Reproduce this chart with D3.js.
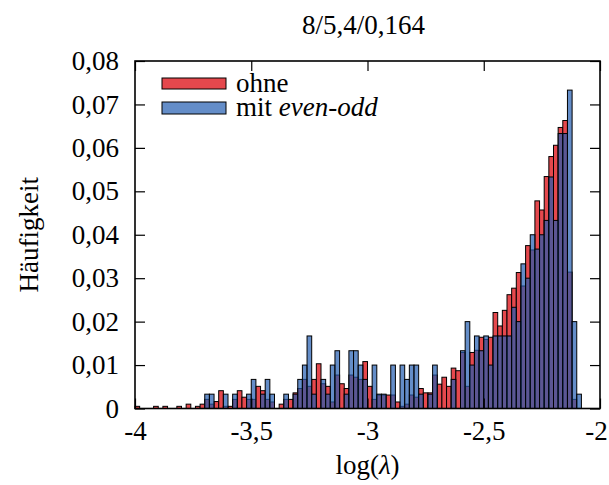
<!DOCTYPE html>
<html>
<head>
<meta charset="utf-8">
<script src="https://cdn.jsdelivr.net/npm/d3@7"></script>
<style>
  body { margin: 0; background: #fff; }
  svg text { font-family: "Liberation Serif", "DejaVu Serif", serif; fill: #000; }
</style>
</head>
<body>
<svg id="chart" width="609" height="485"></svg>
<script>
// histogram, bins of 0.02 starting at -4
var binStart = -4;
var binWidth = 0.02;

// relative frequency per bin, "ohne"
var ohne = [
  0.0005, 0, 0, 0, 0.0005, 0, 0.0005, 0, 0, 0.0005,
  0, 0.001, 0, 0.0005, 0.001, 0.0021, 0.001, 0.0016, 0.0041, 0.0005,
  0.0005, 0.0021, 0.0041, 0.0026, 0.0021, 0.0021, 0.0051, 0.0041, 0.0021, 0.0015,
  0, 0.001, 0.0021, 0.0021, 0.0036, 0.0046, 0.0067, 0.0051, 0.0067, 0.0103,
  0.0057, 0.0051, 0.0015, 0.0077, 0.0057, 0.0046, 0.0077, 0.0072, 0.0067, 0.0108,
  0.0051, 0.0021, 0.0031, 0.0031, 0.0031, 0.0031, 0.0015, 0.0005, 0.001, 0.0031,
  0.0026, 0.0046, 0.0036, 0.0036, 0.0077, 0.0056, 0.0072, 0.0051, 0.0093, 0.0087,
  0.0129, 0.0051, 0.0129, 0.0134, 0.0164, 0.0159, 0.0164, 0.0221, 0.019, 0.0226,
  0.0262, 0.0277, 0.0313, 0.0282, 0.0375, 0.0365, 0.0478, 0.0457, 0.0534, 0.058,
  0.0606, 0.0647, 0.0663, 0.0314, 0.0021, 0
];

// relative frequency per bin, "mit even-odd"
var mitEvenOdd = [
  0, 0, 0, 0, 0, 0, 0, 0, 0, 0,
  0, 0, 0, 0, 0, 0.0033, 0.0033, 0, 0, 0.0033,
  0, 0.0033, 0, 0, 0.0033, 0.0067, 0, 0.0033, 0.0067, 0.0033,
  0, 0, 0.0033, 0, 0.0033, 0.0067, 0.01, 0.0167, 0.0033, 0,
  0.0067, 0.0033, 0.01, 0.0133, 0, 0.0033, 0.0133, 0.0133, 0.01, 0.0067,
  0, 0.01, 0.0033, 0.0033, 0, 0.01, 0, 0.01, 0.0067, 0.01,
  0.01, 0.0033, 0, 0.0033, 0.01, 0, 0, 0, 0.0067, 0,
  0.0133, 0.02, 0.01, 0.0167, 0.0133, 0.0167, 0.01, 0.0167, 0.0167, 0.0167,
  0.0167, 0.0233, 0.02, 0.0333, 0.03, 0.04, 0.0367, 0.04, 0.0433, 0.0533,
  0.0433, 0.0633, 0.0633, 0.0733, 0.02, 0.0033
];

var xTicks = [-4, -3.5, -3, -2.5, -2];
var yTicks = [0, 0.01, 0.02, 0.03, 0.04, 0.05, 0.06, 0.07, 0.08];

var title = "8/5,4/0,164";
var seriesNames = ["ohne", "mit "];

(function() {
  var svg = d3.select("#chart");
  var pl = 135, pr = 600, pt = 61, pb = 408.5;
  var fontSize = 27;

  var x = d3.scaleLinear().domain([-4, -2]).range([pl, pr]);
  var y = d3.scaleLinear().domain([0, 0.08]).range([pb, pt]);

  var red = "#e5484d";
  var blue = "rgb(34,92,176)";
  var blueAlpha = 0.7;

  function toBins(vals) {
    return vals.map(function(v, i) {
      return { x0: binStart + i * binWidth, x1: binStart + (i + 1) * binWidth, v: v };
    }).filter(function(d) { return d.v > 0; });
  }

  function drawBars(vals, fill, alpha) {
    svg.append("g").selectAll("rect")
      .data(toBins(vals))
      .enter().append("rect")
      .attr("x", function(d) { return x(d.x0); })
      .attr("width", function(d) { return x(d.x1) - x(d.x0); })
      .attr("y", function(d) { return y(d.v); })
      .attr("height", function(d) { return y(0) - y(d.v); })
      .attr("fill", fill)
      .attr("fill-opacity", alpha)
      .attr("stroke", "#000")
      .attr("stroke-width", 1);
  }

  drawBars(ohne, red, 1);
  drawBars(mitEvenOdd, blue, blueAlpha);

  // axes with inward ticks
  var fmtX = function(d) { return String(d).replace(".", ","); };
  var fmtY = function(d) { return d === 0 ? "0" : d3.format(".2f")(d).replace(".", ","); };

  var gx = svg.append("g")
    .attr("transform", "translate(0," + pb + ")")
    .call(d3.axisBottom(x).tickValues(xTicks).tickFormat(fmtX).tickSizeInner(-10).tickSizeOuter(0).tickPadding(12));
  var gy = svg.append("g")
    .attr("transform", "translate(" + pl + ",0)")
    .call(d3.axisLeft(y).tickValues(yTicks).tickFormat(fmtY).tickSizeInner(-10).tickSizeOuter(0).tickPadding(16));
  var gt = svg.append("g")
    .attr("transform", "translate(0," + pt + ")")
    .call(d3.axisTop(x).tickValues(xTicks).tickFormat("").tickSizeInner(-10).tickSizeOuter(0));
  var gr = svg.append("g")
    .attr("transform", "translate(" + pr + ",0)")
    .call(d3.axisRight(y).tickValues(yTicks).tickFormat("").tickSizeInner(-10).tickSizeOuter(0));

  [gx, gy, gt, gr].forEach(function(g) {
    g.select(".domain").remove();
    g.selectAll(".tick line").attr("stroke", "#000").attr("stroke-width", 1.2);
    g.selectAll("text").style("font-size", fontSize + "px").style("font-family", null);
  });
  // last x label sits at the right edge, pull it in a little
  gx.selectAll(".tick text").filter(function(d) { return d === -2; }).attr("dx", "-4");

  svg.append("rect")
    .attr("x", pl).attr("y", pt)
    .attr("width", pr - pl).attr("height", pb - pt)
    .attr("fill", "none").attr("stroke", "#000").attr("stroke-width", 1.6);

  // title
  svg.append("text")
    .attr("x", (pl + pr) / 2 - 4).attr("y", 34)
    .attr("text-anchor", "middle")
    .style("font-size", fontSize + "px")
    .text(title);

  // axis labels
  svg.append("text")
    .attr("x", (pl + pr) / 2).attr("y", 474)
    .attr("text-anchor", "middle")
    .style("font-size", fontSize + "px")
    .call(function(t) {
      t.append("tspan").text("log(");
      t.append("tspan").style("font-style", "italic").text("λ");
      t.append("tspan").text(")");
    });

  svg.append("text")
    .attr("transform", "translate(38," + ((pt + pb) / 2) + ") rotate(-90)")
    .attr("text-anchor", "middle")
    .style("font-size", fontSize + "px")
    .text("Häufigkeit");

  // legend
  var legend = svg.append("g");
  legend.append("rect")
    .attr("x", 162).attr("y", 78).attr("width", 64).attr("height", 11)
    .attr("fill", red).attr("stroke", "#000").attr("stroke-width", 1);
  legend.append("rect")
    .attr("x", 162).attr("y", 102).attr("width", 64).attr("height", 12)
    .attr("fill", blue).attr("fill-opacity", blueAlpha).attr("stroke", "#000").attr("stroke-width", 1);
  legend.append("text")
    .attr("x", 236).attr("y", 92)
    .style("font-size", fontSize + "px")
    .text(seriesNames[0]);
  legend.append("text")
    .attr("x", 236).attr("y", 116)
    .style("font-size", fontSize + "px")
    .call(function(t) {
      t.append("tspan").text(seriesNames[1]);
      t.append("tspan").style("font-style", "italic").text("even-odd");
    });
})();
</script>
</body>
</html>
